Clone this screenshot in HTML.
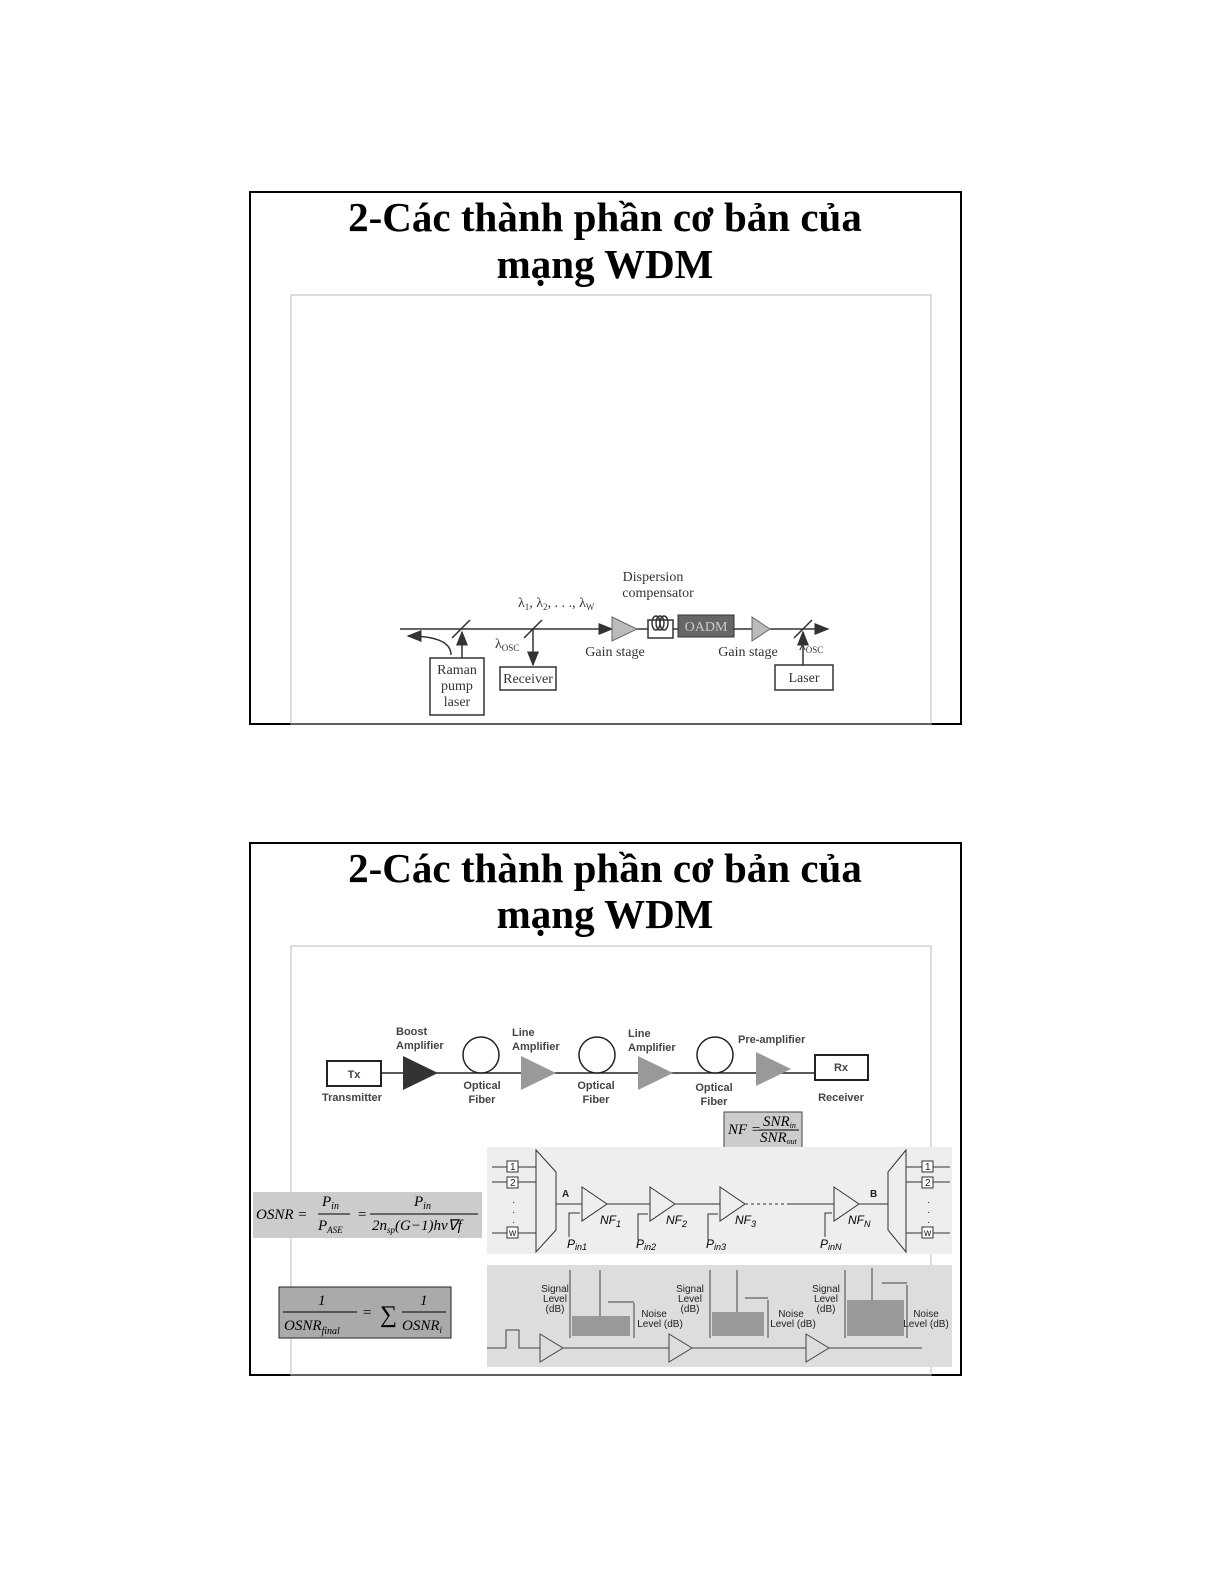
<!DOCTYPE html>
<html><head><meta charset="utf-8"><style>
html,body{margin:0;padding:0;background:#fff;overflow:hidden}
svg{display:block}
.t{font-family:"Liberation Serif",serif;font-weight:bold;font-size:41px}
.s{font-family:"Liberation Serif",serif;font-size:14px;fill:#333}
.a{font-family:"Liberation Sans",sans-serif;font-size:11px;fill:#444;font-weight:bold}
.b{font-family:"Liberation Sans",sans-serif;font-size:10px;fill:#222}
.m{font-family:"Liberation Serif",serif;font-style:italic;font-size:15px}
</style></head><body>
<svg width="1225" height="1585" viewBox="0 0 1225 1585" xmlns="http://www.w3.org/2000/svg">
<defs><marker id="ar" markerWidth="10" markerHeight="8" refX="9" refY="4" orient="auto"><path d="M0,0 L10,4 L0,8 z" fill="#333"/></marker></defs>
<!-- slide 1 -->
<rect x="250" y="192" width="711" height="532" fill="#fff" stroke="#000" stroke-width="2"/>
<text class="t" x="605" y="231" text-anchor="middle">2-Các thành phần cơ bản của</text>
<text class="t" x="605" y="278" text-anchor="middle">mạng WDM</text>
<rect x="291" y="295" width="640" height="429" fill="none" stroke="#bbb"/>
<g stroke="#333" stroke-width="1.5" fill="none">
<line x1="400" y1="629" x2="612" y2="629" marker-end="url(#ar)"/>
<line x1="637" y1="629" x2="648" y2="629"/>
<line x1="673" y1="629" x2="678" y2="629"/>
<line x1="734" y1="629" x2="752" y2="629"/>
<line x1="770" y1="629" x2="828" y2="629" marker-end="url(#ar)"/>
<line x1="452" y1="638" x2="470" y2="620"/>
<line x1="462" y1="658" x2="462" y2="632" marker-end="url(#ar)"/>
<path d="M451,655 Q451,636 408,636" marker-end="url(#ar)"/>
<line x1="524" y1="638" x2="542" y2="620"/>
<line x1="533" y1="629" x2="533" y2="665" marker-end="url(#ar)"/>
<line x1="794" y1="638" x2="812" y2="620"/>
<line x1="803" y1="672" x2="803" y2="632" marker-end="url(#ar)"/>
<rect x="430" y="658" width="54" height="57" fill="#fff"/>
<rect x="500" y="667" width="56" height="23" fill="#fff"/>
<rect x="775" y="665" width="58" height="25" fill="#fff"/>
<rect x="648" y="620" width="25" height="18" fill="#fff"/>
<ellipse cx="656" cy="623" rx="4" ry="7"/><ellipse cx="660" cy="623" rx="4" ry="7"/><ellipse cx="664" cy="623" rx="4" ry="7"/>
</g>
<path d="M612,617 L637,629 L612,641 z" fill="#bbb" stroke="#666"/>
<path d="M752,617 L770,629 L752,641 z" fill="#bbb" stroke="#666"/>
<rect x="678" y="615" width="56" height="22" fill="#666" stroke="#333"/>
<text class="s" x="706" y="631" text-anchor="middle" style="fill:#ccc">OADM</text>
<text class="s" x="457" y="674" text-anchor="middle">Raman</text>
<text class="s" x="457" y="690" text-anchor="middle">pump</text>
<text class="s" x="457" y="706" text-anchor="middle">laser</text>
<text class="s" x="528" y="683" text-anchor="middle">Receiver</text>
<text class="s" x="804" y="682" text-anchor="middle">Laser</text>
<text class="s" x="653" y="581" text-anchor="middle">Dispersion</text>
<text class="s" x="658" y="597" text-anchor="middle">compensator</text>
<text class="s" x="518" y="607">λ<tspan font-size="9" dy="3">1</tspan><tspan dy="-3">, λ</tspan><tspan font-size="9" dy="3">2</tspan><tspan dy="-3">, . . ., λ</tspan><tspan font-size="9" dy="3">W</tspan></text>
<text class="s" x="495" y="648">λ<tspan font-size="9" dy="3">OSC</tspan></text>
<text class="s" x="799" y="650">λ<tspan font-size="9" dy="3">OSC</tspan></text>
<text class="s" x="615" y="656" text-anchor="middle">Gain stage</text>
<text class="s" x="748" y="656" text-anchor="middle">Gain stage</text>
<!-- slide 2 -->
<rect x="250" y="843" width="711" height="532" fill="#fff" stroke="#000" stroke-width="2"/>
<text class="t" x="605" y="882" text-anchor="middle">2-Các thành phần cơ bản của</text>
<text class="t" x="605" y="928" text-anchor="middle">mạng WDM</text>
<rect x="291" y="946" width="640" height="429" fill="none" stroke="#bbb"/>
<g stroke="#222" stroke-width="1.5" fill="none">
<line x1="381" y1="1073" x2="815" y2="1073"/>
<rect x="327" y="1061" width="54" height="25" stroke-width="2" fill="#fff"/>
<rect x="815" y="1055" width="53" height="25" stroke-width="2" fill="#fff"/>
<circle cx="481" cy="1055" r="18" fill="#fff"/>
<circle cx="597" cy="1055" r="18" fill="#fff"/>
<circle cx="715" cy="1055" r="18" fill="#fff"/>
</g>
<path d="M403,1056 L438,1073 L403,1090 z" fill="#333"/>
<path d="M521,1056 L556,1073 L521,1090 z" fill="#999"/>
<path d="M638,1056 L673,1073 L638,1090 z" fill="#999"/>
<path d="M756,1052 L791,1069 L756,1086 z" fill="#999"/>
<text class="a" x="354" y="1078" text-anchor="middle" font-size="12">Tx</text>
<text class="a" x="841" y="1071" text-anchor="middle" font-size="12">Rx</text>
<text class="a" x="352" y="1101" text-anchor="middle">Transmitter</text>
<text class="a" x="841" y="1101" text-anchor="middle">Receiver</text>
<text class="a" x="396" y="1035">Boost</text><text class="a" x="396" y="1049">Amplifier</text>
<text class="a" x="512" y="1036">Line</text><text class="a" x="512" y="1050">Amplifier</text>
<text class="a" x="628" y="1037">Line</text><text class="a" x="628" y="1051">Amplifier</text>
<text class="a" x="738" y="1043">Pre-amplifier</text>
<text class="a" x="482" y="1089" text-anchor="middle">Optical</text><text class="a" x="482" y="1103" text-anchor="middle">Fiber</text>
<text class="a" x="596" y="1089" text-anchor="middle">Optical</text><text class="a" x="596" y="1103" text-anchor="middle">Fiber</text>
<text class="a" x="714" y="1091" text-anchor="middle">Optical</text><text class="a" x="714" y="1105" text-anchor="middle">Fiber</text>
<rect x="724" y="1112" width="78" height="36" fill="#ccc" stroke="#444"/>
<text class="m" x="728" y="1134" font-size="12">NF =</text>
<text class="m" x="763" y="1126" font-size="11">SNR<tspan font-size="8" dy="2">in</tspan></text>
<line x1="759" y1="1130" x2="799" y2="1130" stroke="#000"/>
<text class="m" x="760" y="1142" font-size="11">SNR<tspan font-size="8" dy="2">out</tspan></text>
<!-- OSNR formulas -->
<rect x="253" y="1192" width="229" height="46" fill="#ccc"/>
<text class="m" x="256" y="1219" font-size="14">OSNR =</text>
<text class="m" x="322" y="1206" font-size="14">P<tspan font-size="10" dy="3">in</tspan></text>
<line x1="318" y1="1214" x2="350" y2="1214" stroke="#000"/>
<text class="m" x="318" y="1230" font-size="13">P<tspan font-size="9" dy="3">ASE</tspan></text>
<text class="m" x="357" y="1219" font-size="14">=</text>
<text class="m" x="414" y="1206" font-size="14">P<tspan font-size="10" dy="3">in</tspan></text>
<line x1="370" y1="1214" x2="478" y2="1214" stroke="#000"/>
<text class="m" x="372" y="1230" font-size="13">2n<tspan font-size="9" dy="3">sp</tspan><tspan dy="-3">(G−1)hν∇f</tspan></text>
<rect x="279" y="1287" width="172" height="51" fill="#aaa" stroke="#222"/>
<text class="m" x="318" y="1305" font-size="13">1</text>
<line x1="283" y1="1312" x2="357" y2="1312" stroke="#000"/>
<text class="m" x="284" y="1330" font-size="14">OSNR<tspan font-size="10" dy="4">final</tspan></text>
<text class="m" x="362" y="1317" font-size="14">=</text>
<text x="380" y="1322" font-size="24" font-family="Liberation Serif">∑</text>
<text class="m" x="420" y="1305" font-size="13">1</text>
<line x1="402" y1="1312" x2="446" y2="1312" stroke="#000"/>
<text class="m" x="402" y="1330" font-size="13">OSNR<tspan font-size="9" dy="3">i</tspan></text>
<!-- NF chain -->
<rect x="487" y="1147" width="465" height="107" fill="#eee"/>
<g stroke="#333" stroke-width="1" fill="none">
<path d="M536,1150 L556,1172 L556,1230 L536,1252 z"/>
<path d="M906,1150 L888,1172 L888,1230 L906,1252 z"/>
<line x1="556" y1="1204" x2="582" y2="1204"/><line x1="607" y1="1204" x2="650" y2="1204"/>
<line x1="675" y1="1204" x2="720" y2="1204"/><line x1="745" y1="1204" x2="790" y2="1204" stroke-dasharray="3,3"/>
<line x1="790" y1="1204" x2="834" y2="1204"/><line x1="859" y1="1204" x2="888" y2="1204"/>
<path d="M582,1187 L607,1204 L582,1221 z"/><path d="M650,1187 L675,1204 L650,1221 z"/>
<path d="M720,1187 L745,1204 L720,1221 z"/><path d="M834,1187 L859,1204 L834,1221 z"/>
<path d="M569,1237 V1213 H580"/><path d="M638,1240 V1214 H648"/><path d="M708,1240 V1214 H718"/><path d="M825,1237 V1213 H832"/>
<line x1="492" y1="1167" x2="536" y2="1167"/><line x1="492" y1="1182" x2="536" y2="1182"/><line x1="492" y1="1233" x2="536" y2="1233"/>
<line x1="906" y1="1167" x2="950" y2="1167"/><line x1="906" y1="1182" x2="950" y2="1182"/><line x1="906" y1="1233" x2="950" y2="1233"/>
<rect x="507" y="1161" width="11" height="11" fill="#fff"/><rect x="507" y="1177" width="11" height="11" fill="#fff"/><rect x="507" y="1227" width="11" height="11" fill="#fff"/>
<rect x="922" y="1161" width="11" height="11" fill="#fff"/><rect x="922" y="1177" width="11" height="11" fill="#fff"/><rect x="922" y="1227" width="11" height="11" fill="#fff"/>
</g>
<text x="510" y="1170" class="b" font-size="9">1</text><text x="510" y="1186" class="b" font-size="9">2</text><text x="509" y="1236" class="b" font-size="8">w</text>
<text x="925" y="1170" class="b" font-size="9">1</text><text x="925" y="1186" class="b" font-size="9">2</text><text x="924" y="1236" class="b" font-size="8">w</text>
<text class="b" x="512" y="1205">·</text><text class="b" x="512" y="1215">·</text><text class="b" x="512" y="1225">·</text>
<text class="b" x="927" y="1205">·</text><text class="b" x="927" y="1215">·</text><text class="b" x="927" y="1225">·</text>
<text class="b" x="562" y="1197" font-weight="bold">A</text><text class="b" x="870" y="1197" font-weight="bold">B</text>
<g font-family="Liberation Sans" font-style="italic" font-size="12">
<text x="600" y="1224">NF<tspan font-size="9" dy="3">1</tspan></text><text x="666" y="1224">NF<tspan font-size="9" dy="3">2</tspan></text>
<text x="735" y="1224">NF<tspan font-size="9" dy="3">3</tspan></text><text x="848" y="1224">NF<tspan font-size="9" dy="3">N</tspan></text>
<text x="567" y="1248">P<tspan font-size="9" dy="2">in1</tspan></text><text x="636" y="1248">P<tspan font-size="9" dy="2">in2</tspan></text>
<text x="706" y="1248">P<tspan font-size="9" dy="2">in3</tspan></text><text x="820" y="1248">P<tspan font-size="9" dy="2">inN</tspan></text>
</g>
<!-- spectra -->
<rect x="487" y="1265" width="465" height="102" fill="#ddd"/>
<g stroke="#444" stroke-width="1" fill="none">
<path d="M487,1348 H506 V1330 H519 V1348 H540"/><line x1="540" y1="1348" x2="922" y2="1348"/>
<path d="M540,1334 L563,1348 L540,1362 z" fill="#ddd"/>
<path d="M669,1334 L692,1348 L669,1362 z" fill="#ddd"/>
<path d="M806,1334 L829,1348 L806,1362 z" fill="#ddd"/>
<line x1="570" y1="1270" x2="570" y2="1338"/><line x1="634" y1="1303" x2="634" y2="1338"/><line x1="608" y1="1302" x2="634" y2="1302"/>
<line x1="600" y1="1270" x2="600" y2="1318"/>
<line x1="710" y1="1270" x2="710" y2="1338"/><line x1="768" y1="1300" x2="768" y2="1338"/><line x1="745" y1="1298" x2="768" y2="1298"/>
<line x1="737" y1="1270" x2="737" y2="1312"/>
<line x1="845" y1="1270" x2="845" y2="1338"/><line x1="907" y1="1285" x2="907" y2="1338"/><line x1="882" y1="1283" x2="907" y2="1283"/>
<line x1="872" y1="1268" x2="872" y2="1300"/>
</g>
<rect x="572" y="1316" width="58" height="20" fill="#999"/>
<rect x="712" y="1312" width="52" height="24" fill="#999"/>
<rect x="847" y="1300" width="57" height="36" fill="#999"/>
<g class="b" font-size="9" text-anchor="middle">
<text x="555" y="1292">Signal</text><text x="555" y="1302">Level</text><text x="555" y="1312">(dB)</text>
<text x="690" y="1292">Signal</text><text x="690" y="1302">Level</text><text x="690" y="1312">(dB)</text>
<text x="826" y="1292">Signal</text><text x="826" y="1302">Level</text><text x="826" y="1312">(dB)</text>
<text x="654" y="1317">Noise</text><text x="660" y="1327">Level (dB)</text>
<text x="791" y="1317">Noise</text><text x="793" y="1327">Level (dB)</text>
<text x="926" y="1317">Noise</text><text x="926" y="1327">Level (dB)</text>
</g>
</svg>
</body></html>
